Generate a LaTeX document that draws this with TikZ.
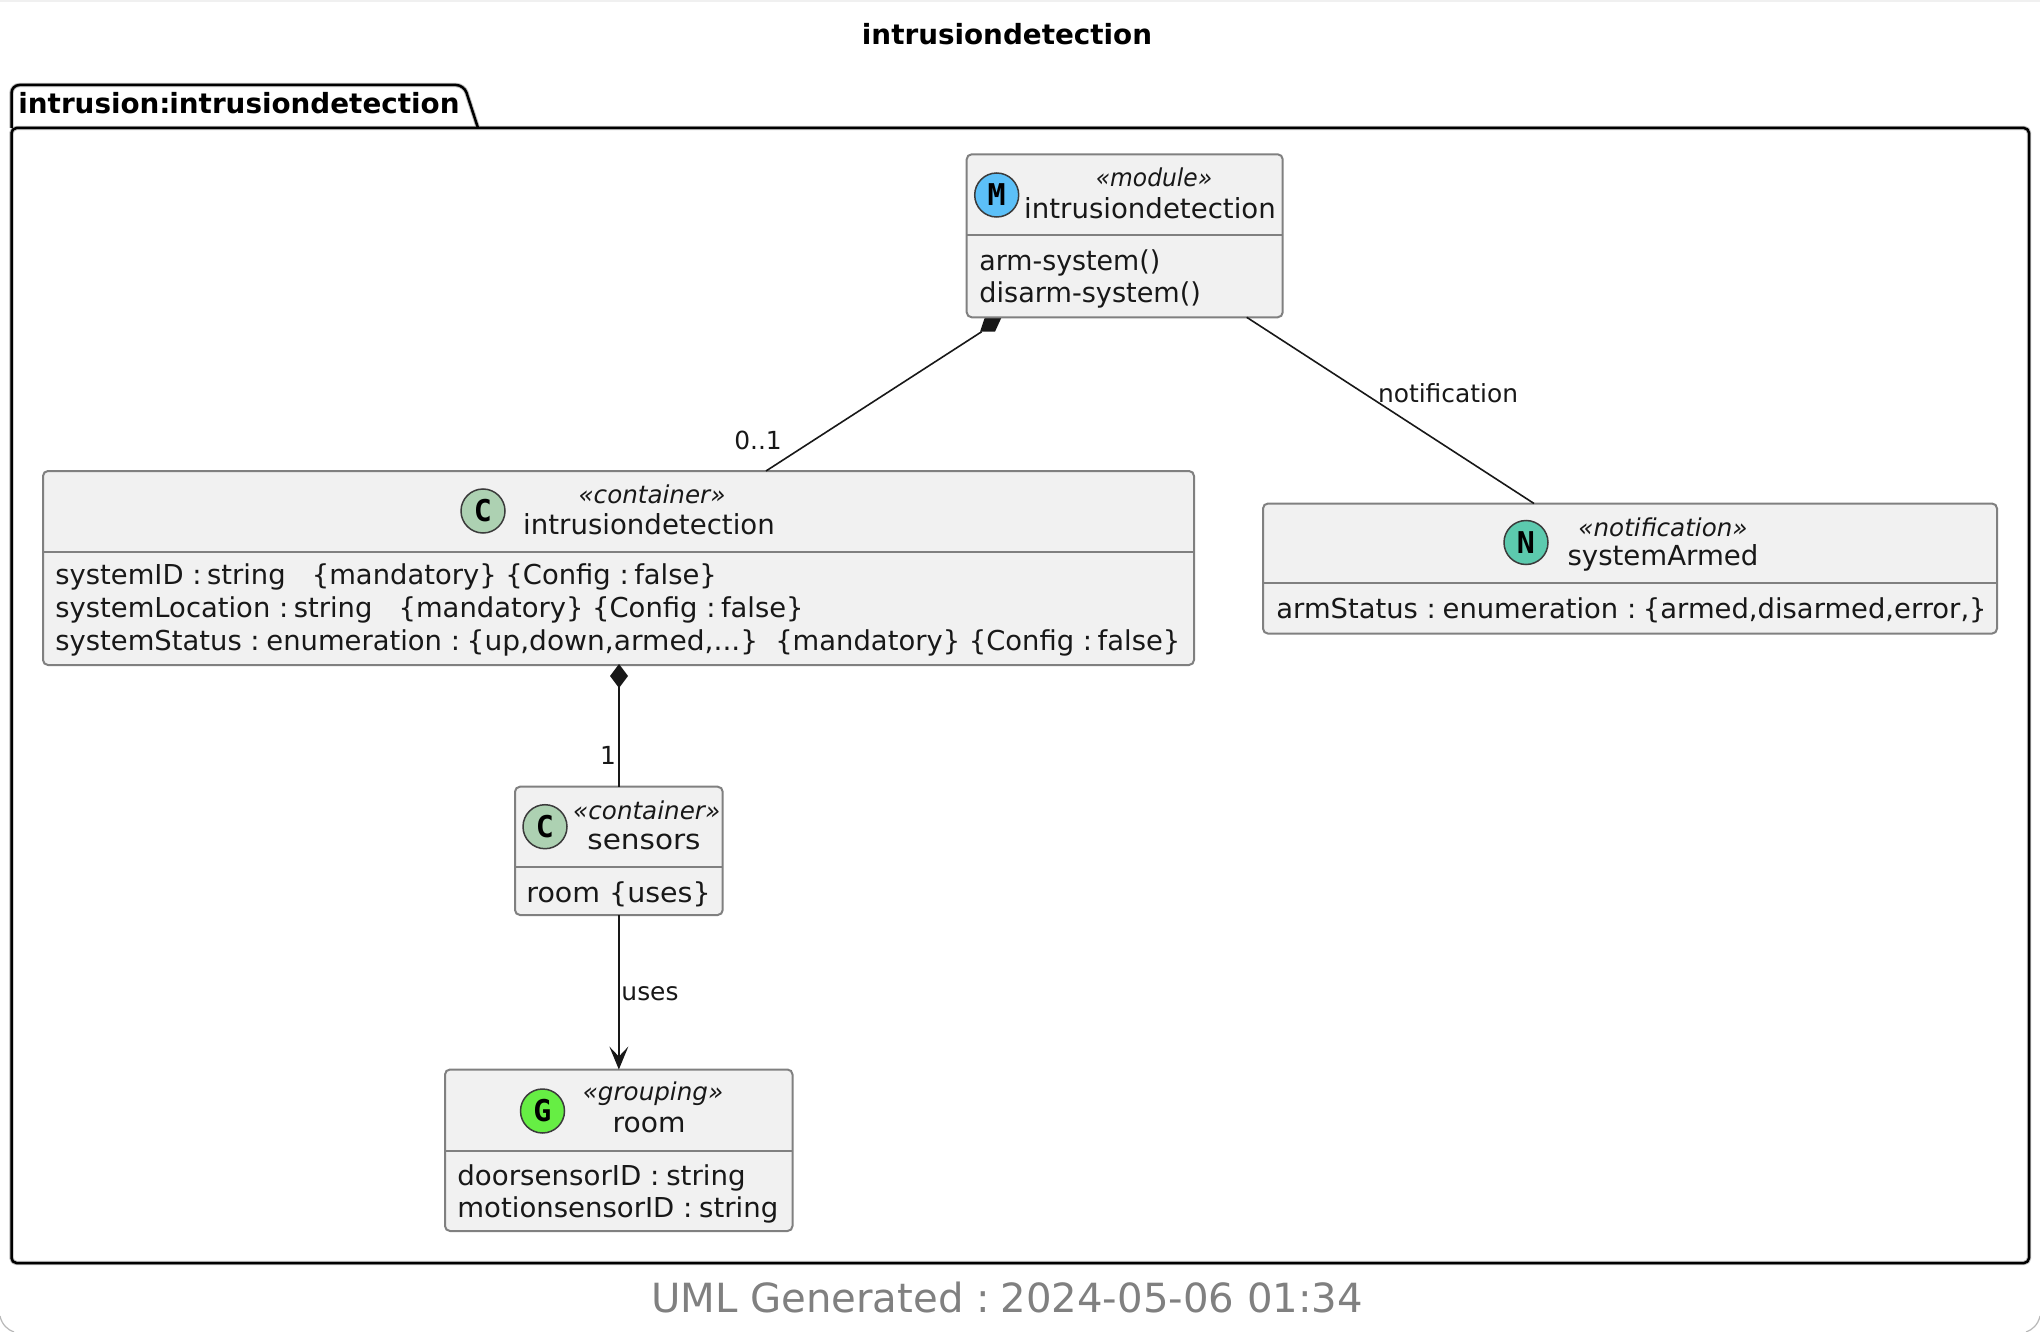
\documentclass[tikz,border=0pt]{standalone}
\usepackage{fontspec}
\usepackage{graphicx}
\setmainfont{DejaVu Sans}
\newfontfamily\spotfont{DejaVu Sans Mono}[BoldFont={DejaVu Sans Mono Bold}]
\usetikzlibrary{calc,arrows.meta}
\definecolor{boxfill}{HTML}{F1F1F1}
\definecolor{boxline}{HTML}{808080}
\definecolor{inkc}{HTML}{181818}
\definecolor{spotM}{HTML}{5CC0F8}
\definecolor{spotC}{HTML}{ADD1B2}
\definecolor{spotN}{HTML}{5CCAAE}
\definecolor{spotG}{HTML}{66EE44}
\definecolor{pkgshadow}{HTML}{BDBDBD}
\newcommand{\hs}[2]{\scalebox{#1}[1]{#2}}
\newcommand{\cl}{:\kern-1.6pt}
\newcommand{\clw}{:\kern-1pt}
\tikzset{
  x=0.5pt,y=-0.5pt,
  umlbox/.style={draw=boxline,fill=boxfill,line width=1pt,rounded corners=2.5pt,inner sep=0pt,outer sep=0pt},
  divider/.style={draw=boxline,line width=1pt},
  spot/.style={circle,draw=inkc!85!white,line width=0.75pt,minimum size=22pt,inner sep=0pt,font=\fontsize{15}{15}\spotfont\bfseries},
  stereo/.style={font=\fontsize{12.3}{12}\selectfont\itshape,text=inkc,inner sep=0pt},
  cname/.style={font=\fontsize{13.8}{14}\selectfont,text=inkc,inner sep=0pt},
  member/.style={font=\fontsize{13.7}{14}\selectfont,text=inkc,inner sep=0pt,anchor=west},
  edgelabel/.style={font=\fontsize{12.45}{12}\selectfont,text=inkc,inner sep=0pt},
  link/.style={draw=inkc,line width=0.8pt},
  pkgout/.style={draw=black,line width=1.25pt,line join=round},
  pkgshad/.style={draw=pkgshadow,line width=2.2pt,line join=round},
}
\newcommand{\umlframe}[6]{%
  \pgfmathsetlengthmacro{\bw}{(#4-#2)*0.5pt}%
  \pgfmathsetlengthmacro{\bh}{(#5-#3)*0.5pt}%
  \node[umlbox,minimum width=\bw,minimum height=\bh] (#1) at ({(#2+#4)/2},{(#3+#5)/2}) {};
  \draw[divider] (#2,#6) -- (#4,#6);
}
\begin{document}
\begin{tikzpicture}
\useasboundingbox (0,0) rectangle (2040,1332);
\fill[white] (0,0) rectangle (2040,1332);
% page edge
\fill[black!6] (0,0) rectangle (2040,2.5);
\draw[black!28,line width=0.6pt] (0,1316) .. controls (2,1325) and (8,1330) .. (14,1332);
\draw[black!28,line width=0.6pt] (2040,1316) .. controls (2038,1325) and (2032,1330) .. (2026,1332);
% title and footer
\node[font=\fontsize{13.9}{14}\selectfont\bfseries,inner sep=0pt] (title) at (1007,34) {intrusiondetection};
\node[font=\fontsize{20.1}{20}\selectfont,text=black!50,inner sep=0pt] (footer) at (1007,1298) {UML Generated \clw\ 2024-05-06 01:34};
% package
\foreach \st in {pkgshad,pkgout}{
  \draw[\st,rounded corners=4pt] (11.5,128) -- (11.5,85) -- (464,85) -- (478,128);
  \draw[\st,rounded corners=2.5pt] (11.5,128) rectangle (2029,1263);
}
\node[font=\fontsize{13.9}{14}\selectfont\bfseries,inner sep=0pt,anchor=west] (pkg) at (18,103) {intrusion:\kern-0.6pt intrusiondetection};
% composition diamond behind the module
\fill[inkc] (980,331.7) -- (995,331.7) -- (1001.7,317) -- (985,317) -- cycle;
% boxes
\umlframe{module}{966.7}{154.3}{1282.7}{317.3}{235}
\node[spot,fill=spotM] (ms) at (996.7,195) {M};
\node[stereo] (mst) at (1154,177) {\hs{0.95}{«module»}};
\node[cname] (mn) at (1150,208) {intrusiondetection};
\node[member] (m1) at (979,262.5) {\hs{0.98}{arm-system()}};
\node[member] (m2) at (979,294.5) {\hs{0.99}{disarm-system()}};

\umlframe{container}{43}{471}{1194}{665}{551.6}
\node[spot,fill=spotC] (cs) at (483,511) {C};
\node[stereo] (cst) at (652,494) {«container»};
\node[cname] (cn) at (649,524) {intrusiondetection};
\node[member] (c1) at (55,576.5) {systemID \cl\ string \ \ {\{}mandatory{\}} {\{}Config \cl\ false{\}}};
\node[member] (c2) at (55,610) {systemLocation \cl\ string \ \ {\{}mandatory{\}} {\{}Config \cl\ false{\}}};
\node[member] (c3) at (55,642.5) {systemStatus \clw\ enumeration \clw\ \hs{1.025}{{\{}up,down,armed,...{\}}}\kern-4.5pt\ \ \ {\{}mandatory{\}} {\{}Config \cl\ false{\}}};

\umlframe{armed}{1263}{503.5}{1997}{633.6}{583}
\node[spot,fill=spotN] (as) at (1526,542.5) {N};
\node[stereo] (ast) at (1663,527) {«notification»};
\node[cname] (an) at (1663,558) {systemArmed};
\node[member] (a1) at (1276,610) {armStatus \clw\ enumeration \clw\ {\{}armed,disarmed,error,{\}}};

\umlframe{sensors}{515}{786.7}{722.7}{915}{866.7}
\node[spot,fill=spotC] (ss) at (545,826.7) {C};
\node[stereo] (sst) at (646.7,810.7) {«container»};
\node[cname] (sn) at (644,842) {\hs{1.07}{sensors}};
\node[member] (s1) at (526,894) {\hs{1.04}{room {\{}uses{\}}}};

\umlframe{room}{445}{1069.5}{792.5}{1231}{1151}
\node[spot,fill=spotG] (rs) at (542.5,1111) {G};
\node[stereo] (rst) at (653,1094) {«grouping»};
\node[cname] (rn) at (649,1125) {\hs{1.02}{room}};
\node[member] (r1) at (457,1177.5) {\hs{1.01}{doorsensorID \clw\ string}};
\node[member] (r2) at (457,1209.5) {\hs{1.005}{motionsensorID \clw\ string}};
% connectors
\draw[link] ($(container.north west)+(723,0)$) -- ($(module.south west)+(15,14.4)$);
\node[edgelabel] (l01) at (758,440) {0..1};
\draw[link] ($(module.south west)+(280,0)$) -- ($(armed.north west)+(271,0)$);
\node[edgelabel] (lnot) at (1448,393) {notification};
\fill[inkc] (619,664) -- (628,676) -- (619,688) -- (610,676) -- cycle;
\draw[link] (container.south -| sensors.north) ++(0,20) -- (sensors.north);
\node[edgelabel] (l1) at (608,755) {1};
\draw[link] (sensors.south) -- ($(room.north -| sensors.south)+(0,-12)$);
\fill[inkc] (room.north -| sensors.south) -- ++(9.5,-23) -- ++(-9.5,10) -- ++(-9.5,-10) -- cycle;
\node[edgelabel] (luses) at (650,994) {uses};
\end{tikzpicture}
\end{document}
